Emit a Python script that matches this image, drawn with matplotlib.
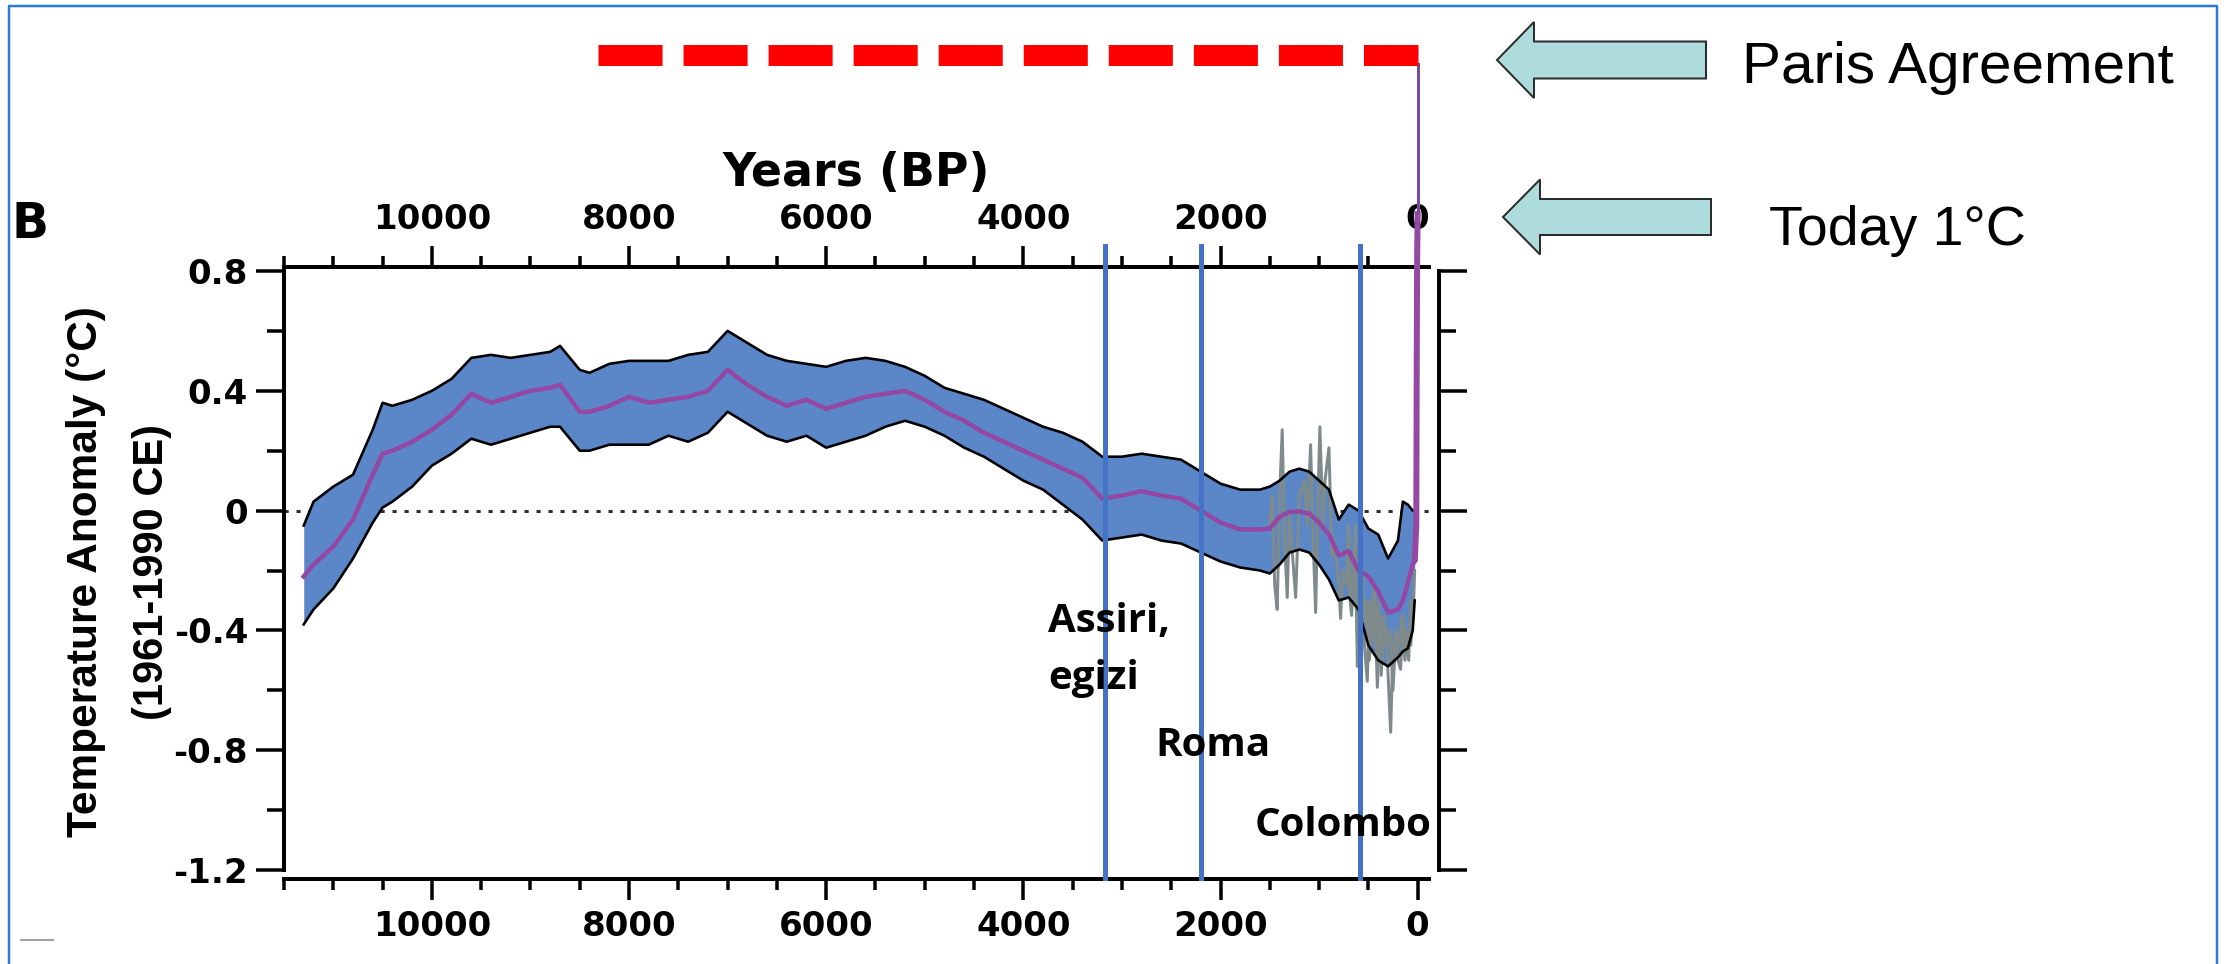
import matplotlib.pyplot as plt
from matplotlib.patches import Polygon
from matplotlib.lines import Line2D

plt.rcParams['axes.unicode_minus'] = False

W, H = 2226, 964
PX = 0.72  # points per pixel at 100 dpi

# Holocene temperature reconstruction (years BP, deg C)
years = [11300, 11200, 11000, 10800, 10600, 10500, 10400, 10200, 10000, 9800,
         9600, 9400, 9200, 9000, 8800, 8700, 8500, 8400, 8200, 8000,
         7800, 7600, 7400, 7200, 7000, 6800, 6600, 6400, 6200, 6000,
         5800, 5600, 5400, 5200, 5000, 4800, 4600, 4400, 4200, 4000,
         3800, 3600, 3400, 3200, 3000, 2800, 2600, 2400, 2200, 2000,
         1800, 1600, 1500, 1400, 1300, 1200, 1100, 1000, 900, 800,
         700, 600, 500, 400, 300, 200, 150, 100, 50, 30]
upper = [-0.05, 0.03, 0.08, 0.12, 0.27, 0.36, 0.35, 0.37, 0.40, 0.44,
         0.51, 0.52, 0.51, 0.52, 0.53, 0.55, 0.47, 0.46, 0.49, 0.50,
         0.50, 0.50, 0.52, 0.53, 0.60, 0.56, 0.52, 0.50, 0.49, 0.48,
         0.50, 0.51, 0.50, 0.48, 0.45, 0.41, 0.39, 0.37, 0.34, 0.31,
         0.28, 0.26, 0.23, 0.18, 0.18, 0.19, 0.18, 0.17, 0.13, 0.09,
         0.07, 0.07, 0.08, 0.10, 0.13, 0.14, 0.13, 0.10, 0.07, -0.03,
         0.02, 0.00, -0.06, -0.08, -0.16, -0.10, 0.03, 0.02, 0.00, 0.00]
mean = [-0.22, -0.18, -0.12, -0.03, 0.12, 0.19, 0.20, 0.23, 0.27, 0.32,
        0.39, 0.36, 0.38, 0.40, 0.41, 0.42, 0.33, 0.33, 0.35, 0.38,
        0.36, 0.37, 0.38, 0.40, 0.47, 0.42, 0.38, 0.35, 0.37, 0.34,
        0.36, 0.38, 0.39, 0.40, 0.37, 0.33, 0.30, 0.26, 0.23, 0.20,
        0.17, 0.14, 0.11, 0.04, 0.05, 0.065, 0.05, 0.04, 0.00, -0.04,
        -0.063, -0.063, -0.06, -0.02, -0.005, -0.003, -0.01, -0.04, -0.08, -0.15,
        -0.135, -0.20, -0.22, -0.27, -0.34, -0.33, -0.30, -0.24, -0.18, -0.17]
lower = [-0.38, -0.33, -0.26, -0.16, -0.04, 0.01, 0.03, 0.08, 0.15, 0.19,
         0.24, 0.22, 0.24, 0.26, 0.28, 0.28, 0.20, 0.20, 0.22, 0.22,
         0.22, 0.25, 0.23, 0.26, 0.33, 0.29, 0.25, 0.23, 0.25, 0.21,
         0.23, 0.25, 0.28, 0.30, 0.28, 0.25, 0.21, 0.18, 0.14, 0.10,
         0.07, 0.02, -0.03, -0.10, -0.09, -0.08, -0.10, -0.11, -0.14, -0.17,
         -0.19, -0.20, -0.21, -0.18, -0.14, -0.13, -0.14, -0.18, -0.23, -0.30,
         -0.29, -0.33, -0.45, -0.50, -0.52, -0.49, -0.47, -0.46, -0.40, -0.30]

# last 1500 years, grey overlay (two reconstructions)
grey_years = [1500, 1475, 1450, 1425, 1400, 1374, 1350, 1323, 1300, 1280,
              1238, 1200, 1150, 1120, 1086, 1060, 1035, 1010, 992, 960,
              940, 900, 870, 840, 800, 782, 760, 720, 700, 680,
              650, 630, 612, 590, 560, 540, 511, 490, 470, 440,
              409, 380, 350, 320, 300, 274, 250, 220, 200, 173,
              150, 120, 91, 70, 50, 30]
grey_vals = [-0.05, 0.05, -0.25, -0.33, 0.05, 0.27, -0.10, -0.29, 0.00, -0.10,
             -0.29, 0.05, 0.10, -0.05, 0.22, -0.10, -0.34, 0.05, 0.28, -0.05,
             0.10, 0.21, -0.15, -0.10, -0.25, -0.36, -0.20, -0.25, -0.05, -0.30,
             -0.20, -0.05, -0.52, -0.30, -0.20, -0.45, -0.57, -0.30, -0.40, -0.25,
             -0.59, -0.35, -0.45, -0.40, -0.55, -0.74, -0.45, -0.40, -0.50, -0.53,
             -0.35, -0.45, -0.50, -0.30, -0.35, -0.20]
grey2_years = [700, 670, 640, 610, 580, 550, 520, 490, 460, 430,
               400, 370, 340, 310, 280, 250, 220, 190, 160, 130,
               100, 70, 40]
grey2_vals = [-0.25, -0.35, -0.15, -0.45, -0.25, -0.40, -0.30, -0.50, -0.35, -0.45,
              -0.30, -0.55, -0.35, -0.45, -0.40, -0.60, -0.40, -0.45, -0.35, -0.50,
              -0.40, -0.45, -0.30]

# modern warming spike and the Paris target
spike_years = [30, 14, 9, 5, 0]
spike_vals = [-0.17, -0.05, 0.55, 0.85, 1.0]
today_temp = 1.0
paris_temp = 1.52
paris_from = 8310

event_years = [3170, 2200, 588]

x_major = [10000, 8000, 6000, 4000, 2000, 0]
y_major = [0.8, 0.4, 0, -0.4, -0.8, -1.2]
y_labels = ['0.8', '0.4', '0', '-0.4', '-0.8', '-1.2']


def fx(x):
    return x / W


def fy(y):
    return 1 - y / H


fig = plt.figure(figsize=(W / 100, H / 100), dpi=100)
ax = fig.add_axes([fx(284), fy(870), (1429 - 284) / W, (870 - 271) / H])
ax.set_xlim(11500, -115)
ax.set_ylim(-1.2, 0.8)
ax.patch.set_alpha(0)

band = '#5b87c8'
purple = '#9448a3'
ax.fill_between(years, lower, upper, color=band, lw=0, zorder=2)
ax.plot(grey2_years, grey2_vals, color='#7f8b8b', lw=3 * PX, zorder=3)
ax.plot(grey_years, grey_vals, color='#7f8b8b', lw=3 * PX, zorder=3)
ax.plot(years, upper, color='black', lw=2.6 * PX, zorder=4)
ax.plot(years, lower, color='black', lw=2.6 * PX, zorder=4)
ax.plot(years, mean, color=purple, lw=4.5 * PX, zorder=5)
ax.plot(spike_years, spike_vals, color=purple, lw=6 * PX, zorder=9,
        clip_on=False, solid_capstyle='butt')
ax.plot([0, 0], [today_temp, paris_temp - 0.03], color='#7b4a9a', lw=3 * PX,
        zorder=9, clip_on=False)

ax.axhline(0, color='#333333', lw=3 * PX, ls=(0, (1.4, 2.6)), zorder=1)

# Paris Agreement level
ax.plot([paris_from, 0], [paris_temp, paris_temp], color='#ff0000',
        lw=21 * PX, ls=(0, (3.05, 1.0)), solid_capstyle='butt',
        dash_capstyle='butt', clip_on=False, zorder=9)

# historical markers
for yr in event_years:
    ax.plot([yr, yr], [-1.226, 0.885], color='#4472c4', lw=5 * PX,
            clip_on=False, zorder=8)

lab_kw = dict(fontfamily='Open Sans', fontweight='bold', fontsize=29,
              color='black', va='baseline', ha='left', zorder=10)
ax.text(3746, -0.406, 'Assiri,', **lab_kw)
ax.text(3746, -0.594, 'egizi', **lab_kw)
ax.text(2660, -0.821, 'Roma', **lab_kw)
ax.text(1655, -1.085, 'Colombo', **lab_kw)

# axes styling
for side in ['left', 'right', 'top', 'bottom']:
    ax.spines[side].set_linewidth(4 * PX)
ax.spines['bottom'].set_position(('outward', 9 * PX))
ax.spines['top'].set_position(('outward', 4 * PX))
ax.spines['right'].set_position(('outward', 10 * PX))

ax.set_xticks(x_major)
ax.set_xticks([11500 - 500 * i for i in range(24)], minor=True)
ax.set_xticklabels([str(v) for v in x_major])
ax.set_yticks(y_major)
ax.set_yticks([0.6, 0.2, -0.2, -0.6, -1.0], minor=True)
ax.set_yticklabels(y_labels)
ax.tick_params(axis='x', which='major', length=21 * PX, width=3.5 * PX,
               top=True, labeltop=True, pad=10 * PX, direction='out')
ax.tick_params(axis='x', which='minor', length=11 * PX, width=3.5 * PX,
               top=True, direction='out')
ax.tick_params(axis='y', which='major', length=28 * PX, width=3.5 * PX,
               right=True, labelright=False, pad=8 * PX, direction='out')
ax.tick_params(axis='y', which='minor', length=17 * PX, width=3.5 * PX,
               right=True, direction='out')
for lab in ax.get_xticklabels() + ax.get_yticklabels():
    lab.set_fontfamily('DejaVu Sans')
    lab.set_fontweight('bold')
    lab.set_fontsize(24.5)

fig.text(fx(856), fy(174), 'Years (BP)', ha='center', va='center',
         fontfamily='DejaVu Sans', fontweight='bold', fontsize=33)
fig.text(fx(12), fy(238), 'B', ha='left', va='baseline',
         fontfamily='DejaVu Sans', fontweight='bold', fontsize=35)
fig.text(fx(86), fy(572), 'Temperature Anomaly (\u00b0C)', rotation=90,
         ha='center', va='center', fontfamily='Liberation Sans',
         fontweight='bold', fontsize=30.5)
fig.text(fx(152), fy(572), '(1961-1990 CE)', rotation=90,
         ha='center', va='center', fontfamily='Liberation Sans',
         fontweight='bold', fontsize=30)


def block_arrow(tip_x, cy, base_x, tail_x, half_head, half_shaft):
    pts = [(tip_x, cy), (base_x, cy - half_head), (base_x, cy - half_shaft),
           (tail_x, cy - half_shaft), (tail_x, cy + half_shaft),
           (base_x, cy + half_shaft), (base_x, cy + half_head)]
    fig.patches.append(Polygon([(fx(x), fy(y)) for x, y in pts], closed=True,
                               transform=fig.transFigure, facecolor='#aedcdd',
                               edgecolor='#2b2b2b', lw=2 * PX))


block_arrow(1497, 60, 1534, 1706, 38, 18.5)
block_arrow(1503, 217, 1540, 1711, 37.5, 18)
fig.text(fx(1742), fy(83), 'Paris Agreement', ha='left', va='baseline',
         fontfamily='Liberation Sans', fontsize=42)
fig.text(fx(1769), fy(245), 'Today 1\u00b0C', ha='left', va='baseline',
         fontfamily='Liberation Sans', fontsize=40)

# slide frame
fig.lines.append(Line2D([fx(9), fx(9), fx(2217), fx(2217)],
                        [fy(970), fy(6), fy(6), fy(970)],
                        transform=fig.transFigure, color='#2a7bd6',
                        lw=2.5 * PX))
fig.lines.append(Line2D([fx(21), fx(53)], [fy(940), fy(940)],
                        transform=fig.transFigure, color='#a0a0a0',
                        lw=2 * PX))

fig.savefig('out.png', dpi=100)
